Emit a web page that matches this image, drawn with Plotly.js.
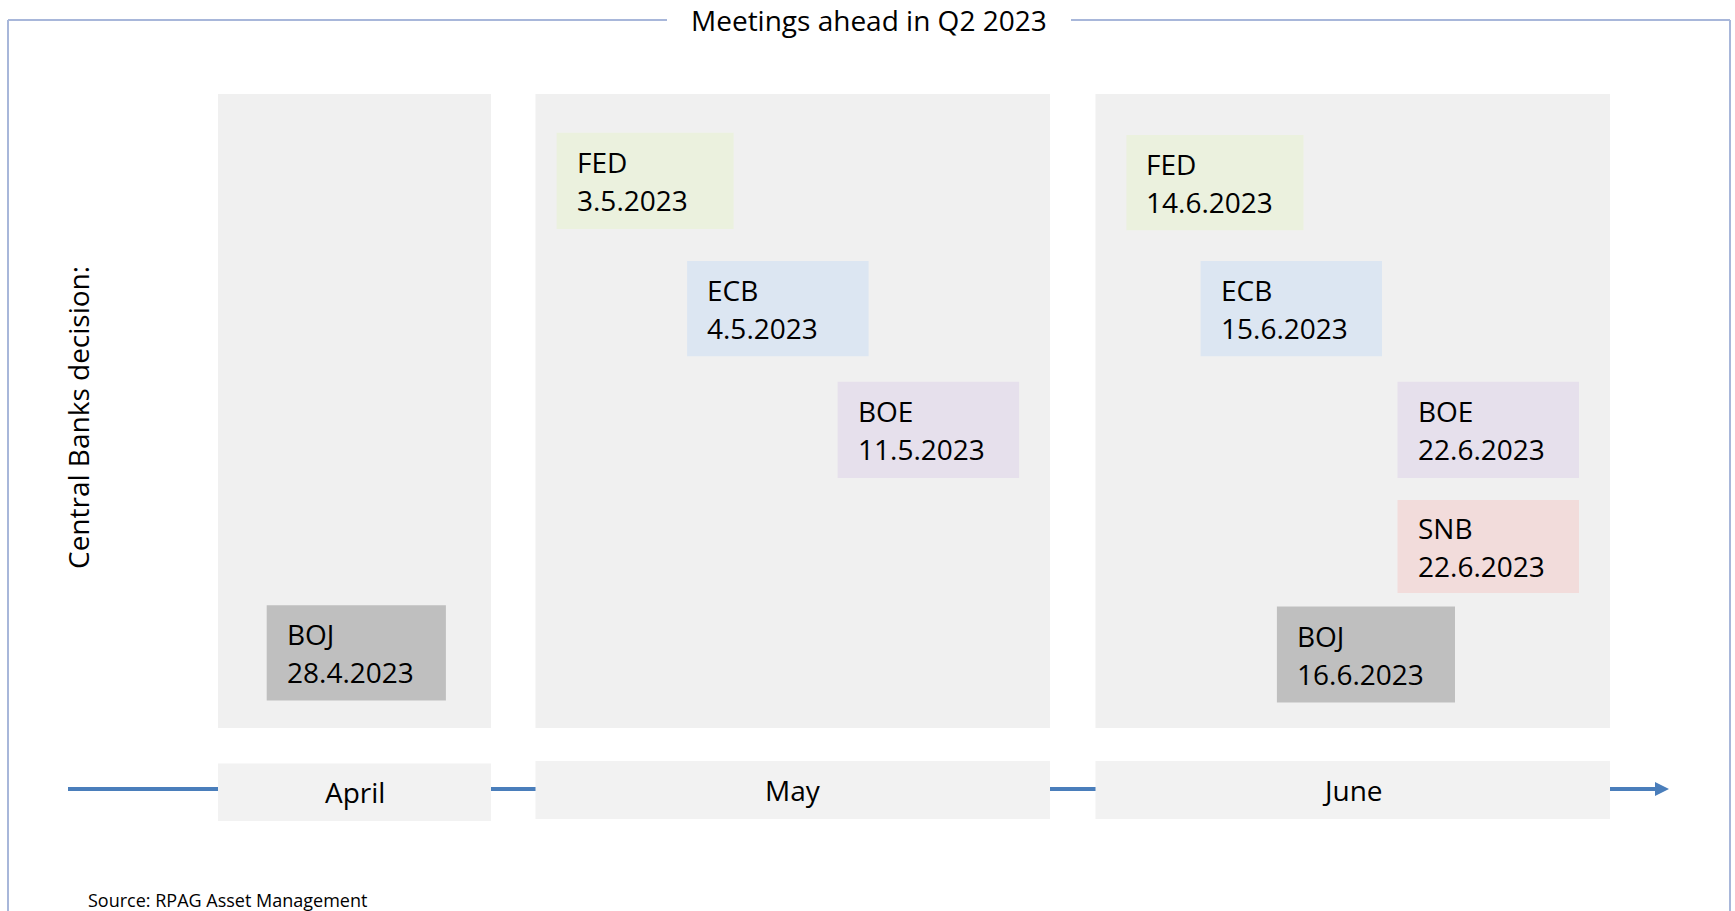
<!DOCTYPE html>
<html>
<head>
<meta charset="utf-8">
<script src="https://cdn.plot.ly/plotly-3.0.1.min.js"></script>
<style>
  html, body { margin: 0; padding: 0; background: #ffffff; }
  #chart { width: 1735px; height: 911px; }
</style>
</head>
<body>
<div id="chart"></div>
<script>
// ---------------- DATA ----------------
const chartTitle = 'Meetings ahead in Q2 2023';
const yLabel = 'Central Banks decision:';
const sourceText = 'Source: RPAG Asset Management';
const monthNames = ['April', 'May', 'June'];
const bankNames = ['BOJ', 'FED', 'ECB', 'BOE', 'FED', 'ECB', 'BOE', 'SNB', 'BOJ'];
const meetingDates = ['28.4.2023', '3.5.2023', '4.5.2023', '11.5.2023',
                      '14.6.2023', '15.6.2023', '22.6.2023', '22.6.2023', '16.6.2023'];

// ---------------- LAYOUT (positions in axis units = pixels) ----------------
const W = 1735, H = 911;
const panelX = [[218, 491], [535.5, 1050], [1095.5, 1610]];
const panelY = [94, 728];
const monthBoxY = [[763.5, 821], [761, 819], [761, 819]];
const boxX0 = [266.7, 556.6, 687.1, 837.6, 1126.4, 1200.6, 1397.5, 1397.5, 1276.9];
const boxX1 = [445.9, 733.6, 868.6, 1019.1, 1303.5, 1382.0, 1579.0, 1579.0, 1455.0];
const boxY0 = [605.3, 132.8, 261.1, 381.7, 135.0, 261.1, 381.7, 500.1, 606.4];
const boxY1 = [700.4, 229.0, 356.3, 478.0, 230.2, 356.3, 478.0, 593.1, 702.6];

// ---------------- STYLE ----------------
const bankFill = { FED: '#ebf1de', ECB: '#dce6f2', BOE: '#e6e0ec', SNB: '#f2dcdb', BOJ: '#bfbfbf' };
const panelFill = '#f0f0f0';
const monthFill = '#f2f2f2';
const arrowColor = '#4a7ebb';
const frameColor = '#a8b7da';
const FONT = '"Open Sans", "Noto Sans", sans-serif';

const shapes = [];
const annotations = [];

// frame (top line with gap for the title, and side lines)
const frameY = 20, frameL = 8, frameR = 1730, gapL = 667, gapR = 1071;
shapes.push({ type: 'line', xref: 'x', yref: 'y', x0: frameL, x1: gapL, y0: frameY, y1: frameY, line: { color: frameColor, width: 2 } });
shapes.push({ type: 'line', xref: 'x', yref: 'y', x0: gapR, x1: frameR, y0: frameY, y1: frameY, line: { color: frameColor, width: 2 } });
shapes.push({ type: 'line', xref: 'x', yref: 'y', x0: frameL, x1: frameL, y0: frameY, y1: H + 10, line: { color: frameColor, width: 2 } });
shapes.push({ type: 'line', xref: 'x', yref: 'y', x0: frameR, x1: frameR, y0: frameY, y1: H + 10, line: { color: frameColor, width: 2 } });

// timeline arrow
const arrowY = 789, arrowX0 = 68, arrowTip = 1669;
shapes.push({ type: 'line', xref: 'x', yref: 'y', x0: arrowX0, x1: arrowTip - 12, y0: arrowY, y1: arrowY, line: { color: arrowColor, width: 4 } });
shapes.push({ type: 'path', xref: 'x', yref: 'y',
  path: `M ${arrowTip - 14} ${arrowY - 7} L ${arrowTip} ${arrowY} L ${arrowTip - 14} ${arrowY + 7} Z`,
  fillcolor: arrowColor, line: { width: 0 } });

// month panels and month labels
monthNames.forEach((m, i) => {
  shapes.push({ type: 'rect', xref: 'x', yref: 'y', x0: panelX[i][0], x1: panelX[i][1], y0: panelY[0], y1: panelY[1],
    fillcolor: panelFill, line: { width: 0 }, layer: 'below' });
  shapes.push({ type: 'rect', xref: 'x', yref: 'y', x0: panelX[i][0], x1: panelX[i][1], y0: monthBoxY[i][0], y1: monthBoxY[i][1],
    fillcolor: monthFill, line: { width: 0 } });
  annotations.push({ xref: 'x', yref: 'y', x: (panelX[i][0] + panelX[i][1]) / 2, y: (monthBoxY[i][0] + monthBoxY[i][1]) / 2,
    text: m, showarrow: false, xanchor: 'center', yanchor: 'middle', font: { family: FONT, size: 28, color: '#000' } });
});

// meeting boxes
bankNames.forEach((b, i) => {
  shapes.push({ type: 'rect', xref: 'x', yref: 'y', x0: boxX0[i], x1: boxX1[i], y0: boxY0[i], y1: boxY1[i],
    fillcolor: bankFill[b], line: { width: 0 } });
  const cy = (boxY0[i] + boxY1[i]) / 2;
  annotations.push({ xref: 'x', yref: 'y', x: boxX0[i] + 18, y: cy - 19, text: b, showarrow: false,
    xanchor: 'left', yanchor: 'middle', font: { family: FONT, size: 28, color: '#000' } });
  annotations.push({ xref: 'x', yref: 'y', x: boxX0[i] + 18, y: cy + 19, text: meetingDates[i], showarrow: false,
    xanchor: 'left', yanchor: 'middle', font: { family: FONT, size: 28, color: '#000' } });
});

// title, y label, source
annotations.push({ xref: 'x', yref: 'y', x: (gapL + gapR) / 2, y: frameY, text: chartTitle, showarrow: false,
  xanchor: 'center', yanchor: 'middle', font: { family: FONT, size: 28, color: '#000' } });
annotations.push({ xref: 'x', yref: 'y', x: 78, y: 418, text: yLabel, showarrow: false, textangle: -90,
  xanchor: 'center', yanchor: 'middle', font: { family: FONT, size: 28, color: '#000' } });
annotations.push({ xref: 'x', yref: 'y', x: 86, y: 900, text: sourceText, showarrow: false,
  xanchor: 'left', yanchor: 'middle', font: { family: FONT, size: 18, color: '#000' } });

const data = [{ type: 'scatter', mode: 'markers', x: [0, W], y: [0, H], marker: { opacity: 0 }, hoverinfo: 'skip', showlegend: false }];

const layout = {
  width: W, height: H,
  margin: { l: 0, r: 0, t: 0, b: 0, pad: 0 },
  paper_bgcolor: '#ffffff', plot_bgcolor: '#ffffff',
  xaxis: { range: [0, W], visible: false, fixedrange: true },
  yaxis: { range: [H, 0], visible: false, fixedrange: true },
  showlegend: false,
  shapes: shapes,
  annotations: annotations
};

Plotly.newPlot('chart', data, layout, { staticPlot: true, displayModeBar: false });
</script>
</body>
</html>
